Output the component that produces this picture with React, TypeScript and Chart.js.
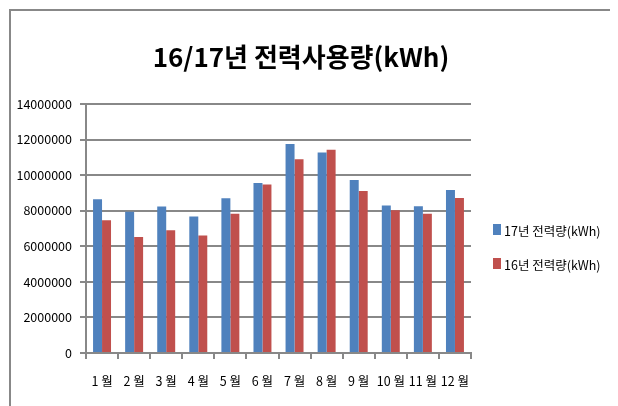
import React, { useEffect, useRef } from "react";
import { Chart, registerables } from "chart.js";

Chart.register(...registerables);

const TITLE = "16/17년 전력사용량(kWh)";
const months = ["1 월", "2 월", "3 월", "4 월", "5 월", "6 월", "7 월", "8 월", "9 월", "10 월", "11 월", "12 월"];
const label17 = "17년 전력량(kWh)";
const label16 = "16년 전력량(kWh)";
const usage17 = [8640000, 7940000, 8230000, 7680000, 8700000, 9560000, 11750000, 11280000, 9730000, 8300000, 8250000, 9160000];
const usage16 = [7460000, 6520000, 6900000, 6600000, 7830000, 9480000, 10890000, 11430000, 9110000, 8020000, 7830000, 8710000];
const yMin = 0;
const yMax = 14000000;
const yStep = 2000000;

const FONT = "'Noto Sans CJK KR', 'Noto Sans', sans-serif";
const GRID = "#888888";
const BLUE = "#4f81bd";
const RED = "#c0504d";

const titlePlugin = {
  id: "refTitle",
  afterDraw(chart: any) {
    const ctx = chart.ctx;
    ctx.save();
    ctx.font = `bold 26px ${FONT}`;
    ctx.fillStyle = "#000";
    ctx.textAlign = "center";
    ctx.textBaseline = "middle";
    ctx.fillText(TITLE, 293, 49);
    ctx.restore();
  },
};

const legendPlugin = {
  id: "refLegend",
  afterDraw(chart: any) {
    const ctx = chart.ctx;
    ctx.save();
    ctx.font = `12.5px ${FONT}`;
    ctx.textAlign = "left";
    ctx.textBaseline = "middle";
    chart.data.datasets.forEach((ds: any, i: number) => {
      const cy = 221.5 + i * 34;
      ctx.fillStyle = ds.backgroundColor;
      ctx.fillRect(485, cy - 5.5, 8, 11);
      ctx.fillStyle = "#000";
      ctx.fillText(ds.label, 496, cy + 2);
    });
    ctx.restore();
  },
};

export default function App() {
  const ref = useRef<HTMLCanvasElement | null>(null);
  useEffect(() => {
    document.documentElement.style.overflow = "hidden";
    const canvas = ref.current;
    if (!canvas) return;
    const chart = new Chart(canvas, {
      type: "bar",
      data: {
        labels: months,
        datasets: [
          { label: label17, data: usage17, backgroundColor: BLUE, borderWidth: 0, categoryPercentage: 0.56, barPercentage: 1.0 },
          { label: label16, data: usage16, backgroundColor: RED, borderWidth: 0, categoryPercentage: 0.56, barPercentage: 1.0 },
        ],
      },
      options: {
        responsive: false,
        animation: false,
        layout: { padding: { top: 96, right: 147, bottom: 16, left: 0 } },
        plugins: {
          legend: { display: false },
          title: { display: false },
          tooltip: { enabled: false },
        },
        scales: {
          x: {
            grid: { offset: true, drawOnChartArea: false, drawTicks: true, tickLength: 6, color: GRID, lineWidth: 2 },
            border: { color: GRID, width: 2 },
            ticks: { padding: 15, color: "#000", font: { family: FONT, size: 12.5 }, maxRotation: 0, autoSkip: false },
            afterFit: (s: any) => { s.height = 37; },
          },
          y: {
            min: yMin,
            max: yMax,
            grid: { color: GRID, lineWidth: 2, tickLength: 6 },
            border: { color: GRID, width: 2 },
            ticks: { stepSize: yStep, padding: 8, color: "#000", font: { family: FONT, size: 12.5 }, callback: (v: any) => String(v) },
            afterFit: (s: any) => { s.width = 78; },
          },
        },
      },
      plugins: [titlePlugin, legendPlugin],
    });
    return () => chart.destroy();
  }, []);

  return (
    <div style={{ position: "relative", width: 610, height: 398, overflow: "hidden" }}>
      <div style={{ position: "absolute", left: 1, top: 1, width: 800, height: 800, border: `2px solid ${GRID}` }} />
      <canvas ref={ref} width={610} height={398} style={{ position: "absolute", left: 0, top: 0 }} />
    </div>
  );
}
